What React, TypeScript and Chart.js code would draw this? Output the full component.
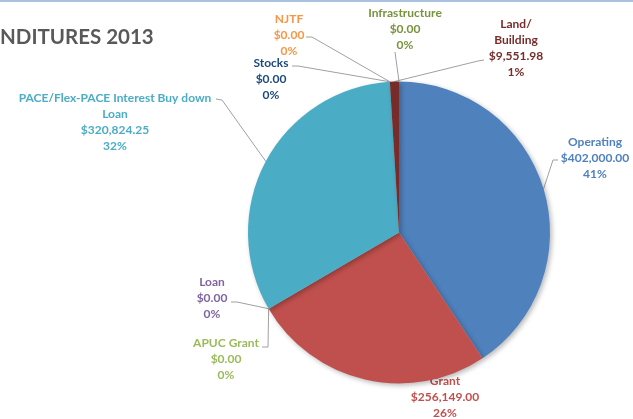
import React, { useEffect, useRef } from "react";
import { Chart, registerables } from "chart.js";

Chart.register(...registerables);

// ---- data ----
const titleText = "NDITURES 2013";
const categories = [
  "Operating",
  "Grant",
  "APUC Grant",
  "Loan",
  "PACE/Flex-PACE Interest Buy down Loan",
  "NJTF",
  "Stocks",
  "Land/Building",
  "Infrastructure",
];
const amounts = [402000, 256149, 0, 0, 320824.25, 0, 0, 9551.98, 0];
const labelNameLines = [
  ["Operating"],
  ["Grant"],
  ["APUC Grant"],
  ["Loan"],
  ["PACE/Flex-PACE Interest Buy down", "Loan"],
  ["NJTF"],
  ["Stocks"],
  ["Land/", "Building"],
  ["Infrastructure"],
];

// ---- styles ----
const sliceColors = [
  "#4F81BD",
  "#C0504D",
  "#9BBB59",
  "#8064A2",
  "#4BACC6",
  "#F79646",
  "#2C4D75",
  "#772C2A",
  "#5F7530",
];
const labelColors = [
  "#4F81BD",
  "#C0504D",
  "#9BBB59",
  "#8064A2",
  "#4BACC6",
  "#F79646",
  "#1F497D",
  "#772C2A",
  "#77933C",
];
// label placement (text centre x, first-line centre y, leader points before edge)
const labelLayout: { x: number; y: number; lead: number[][] }[] = [
  { x: 595, y: 142, lead: [[558, 160], [553, 160]] },
  { x: 445, y: 381, lead: [] },
  { x: 226, y: 343, lead: [[262, 347], [268, 347]] },
  { x: 212, y: 282, lead: [[231, 302], [237, 302]] },
  { x: 115, y: 98, lead: [[216, 99], [222, 100]] },
  { x: 289, y: 19, lead: [[306, 37], [312, 37]] },
  { x: 271, y: 63, lead: [[292, 66], [298, 66]] },
  { x: 516, y: 24, lead: [[484, 60], [478, 61]] },
  { x: 405, y: 13, lead: [[395, 52]] },
];
const LINE_H = 16;

const total = amounts.reduce((a, b) => a + b, 0);
const fmtMoney = (v: number) =>
  "$" + v.toLocaleString("en-US", { minimumFractionDigits: 2, maximumFractionDigits: 2 });
const fmtPct = (v: number) => Math.round((v / total) * 100) + "%";

const labelPlugin = {
  id: "outLabels",
  beforeDatasetsDraw(chart: any) {
    const ctx = chart.ctx as CanvasRenderingContext2D;
    const meta = chart.getDatasetMeta(0);
    ctx.save();
    meta.data.forEach((arc: any, i: number) => {
      const lay = labelLayout[i];
      const mid = (arc.startAngle + arc.endAngle) / 2;
      const ex = arc.x + Math.cos(mid) * arc.outerRadius;
      const ey = arc.y + Math.sin(mid) * arc.outerRadius;
      if (lay.lead.length) {
        ctx.strokeStyle = "#A0A0A0";
        ctx.lineWidth = 1;
        ctx.beginPath();
        ctx.moveTo(lay.lead[0][0], lay.lead[0][1]);
        for (let k = 1; k < lay.lead.length; k++) ctx.lineTo(lay.lead[k][0], lay.lead[k][1]);
        ctx.lineTo(ex, ey);
        ctx.stroke();
      }
      const lines = [...labelNameLines[i], fmtMoney(amounts[i]), fmtPct(amounts[i])];
      ctx.fillStyle = labelColors[i];
      ctx.font = "bold 12px Lato";
      ctx.textAlign = "center";
      ctx.textBaseline = "middle";
      lines.forEach((t, k) => ctx.fillText(t, lay.x, lay.y + k * LINE_H));
    });
    ctx.restore();
    // shadow for the pie
    ctx.save();
    ctx.shadowColor = "rgba(0,0,0,0.28)";
    ctx.shadowBlur = 5;
    ctx.shadowOffsetX = 2;
    ctx.shadowOffsetY = 2;
  },
  afterDatasetsDraw(chart: any) {
    chart.ctx.restore();
  },
  afterDraw(chart: any) {
    const ctx = chart.ctx as CanvasRenderingContext2D;
    ctx.save();
    ctx.fillStyle = "#A9C2E0";
    ctx.fillRect(0, 0, chart.width, 2);
    ctx.fillStyle = "#595959";
    ctx.font = "bold 20.5px Lato";
    ctx.textAlign = "left";
    ctx.textBaseline = "middle";
    ctx.fillText(titleText, 0, 37);
    ctx.restore();
  },
};

export default function App() {
  const ref = useRef<HTMLCanvasElement | null>(null);
  useEffect(() => {
    document.body.style.margin = "0";
    const chart = new Chart(ref.current!, {
      type: "pie",
      data: {
        labels: categories,
        datasets: [
          {
            data: amounts,
            backgroundColor: sliceColors,
            borderWidth: 0,
          },
        ],
      },
      options: {
        animation: false,
        responsive: false,
        layout: { padding: { left: 248, right: 83, top: 81, bottom: 35 } },
        plugins: { legend: { display: false }, tooltip: { enabled: false } },
      },
      plugins: [labelPlugin],
    });
    return () => chart.destroy();
  }, []);
  return (
    <div style={{ width: 633, height: 419, background: "#fff" }}>
      <canvas ref={ref} width={633} height={419} />
    </div>
  );
}
